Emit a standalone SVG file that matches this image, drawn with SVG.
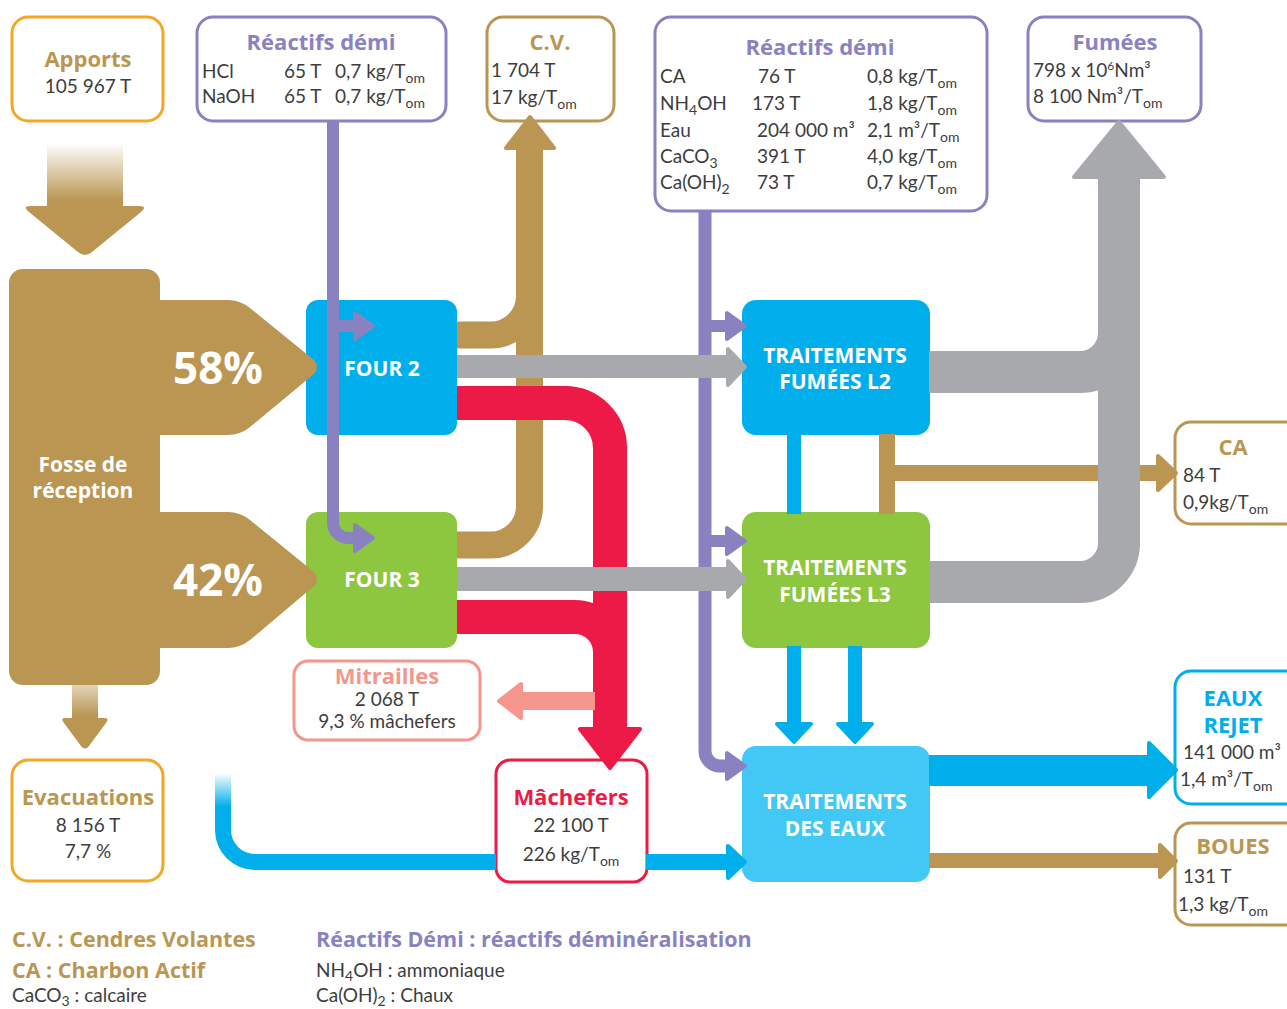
<svg xmlns="http://www.w3.org/2000/svg" width="1287" height="1009" viewBox="0 0 1287 1009">
  <defs>
    <style>
      text{font-family:Lato,'Open Sans','Liberation Sans',sans-serif}
      .ttl{font-family:'Open Sans',Lato,sans-serif;font-weight:700;font-size:22px;text-anchor:middle}
      .lg{font-family:'Open Sans',Lato,sans-serif;font-weight:700;font-size:21.5px}
      .bd{font-size:19px;fill:#3d3d3d}
      .mid{text-anchor:middle}
      .wt{font-family:'Open Sans',Lato,sans-serif;fill:#fff;font-weight:700;font-size:21px;text-anchor:middle}
      .pct{font-family:'Open Sans',Lato,sans-serif;fill:#fff;font-weight:700;font-size:44px;text-anchor:middle}
      .box{fill:#fff;stroke-width:3}
      .hd{stroke-linejoin:round;stroke-width:4}
      .gold{fill:#BA9652}.goldS{stroke:#BA9652}.goldT{fill:#BA9652}
      .blue{fill:#00AEEC}.blueS{stroke:#00AEEC}
      .green{fill:#8DC63F}
      .red{fill:#ED1A47}.redS{stroke:#ED1A47}
      .gray{fill:#A8A9AD}.grayS{stroke:#A8A9AD}
      .purple{fill:#8A82C0}.purpleS{stroke:#8A82C0}
      .salmon{fill:#F4968C}.salmonS{stroke:#F4968C}
      .orangeS{stroke:#F5A623}
      .aqua{fill:#42C8F4}
    </style>
    <linearGradient id="fadeGold" x1="0" y1="0" x2="0" y2="1">
      <stop offset="0" stop-color="#BA9652" stop-opacity="0"/>
      <stop offset="0.9" stop-color="#BA9652" stop-opacity="1"/>
    </linearGradient>
    <linearGradient id="fadeGoldShort" x1="0" y1="0" x2="0" y2="1">
      <stop offset="0" stop-color="#BA9652" stop-opacity="0.4"/>
      <stop offset="0.9" stop-color="#BA9652" stop-opacity="1"/>
    </linearGradient>
    <linearGradient id="fadeBlue" x1="0" y1="0" x2="0" y2="1">
      <stop offset="0" stop-color="#00AEEC" stop-opacity="0"/>
      <stop offset="0.75" stop-color="#00AEEC" stop-opacity="1"/>
    </linearGradient>
  </defs>

  <!-- process nodes -->
  <g id="fosse">
    <rect x="9" y="269" width="151" height="416" rx="14" class="gold"/>
    <text class="wt" x="83" y="472" font-size="22">Fosse de</text>
    <text class="wt" x="83" y="498" font-size="22">réception</text>
  </g>
  <g id="four2">
    <rect x="306" y="300" width="151" height="135" rx="12" class="blue"/>
    <text class="wt" x="382" y="376">FOUR 2</text>
  </g>
  <g id="four3">
    <rect x="306" y="512" width="151" height="136" rx="12" class="green"/>
    <text class="wt" x="382" y="587">FOUR 3</text>
  </g>
  <g id="traitement-l2">
    <rect x="742" y="300" width="188" height="135" rx="14" class="blue"/>
    <text class="wt" x="835" y="363">TRAITEMENTS</text>
    <text class="wt" x="835" y="389">FUMÉES L2</text>
  </g>
  <g id="traitement-l3">
    <rect x="742" y="512" width="188" height="136" rx="14" class="green"/>
    <text class="wt" x="835" y="575">TRAITEMENTS</text>
    <text class="wt" x="835" y="602">FUMÉES L3</text>
  </g>
  <g id="traitement-eaux">
    <rect x="742" y="746" width="188" height="136" rx="14" class="aqua"/>
    <text class="wt" x="835" y="809">TRAITEMENTS</text>
    <text class="wt" x="835" y="836">DES EAUX</text>
  </g>

  <!-- input / output nodes -->
  <g id="apports">
    <rect x="12" y="17" width="151" height="104" rx="16" class="box orangeS"/>
    <text class="ttl goldT" x="88" y="67">Apports</text>
    <text class="bd mid" x="88" y="93">105 967 T</text>
  </g>
  <g id="reactifs-fours">
    <rect x="197" y="17" width="249" height="104" rx="16" class="box purpleS"/>
    <text class="ttl purple" x="321" y="50">Réactifs démi</text>
    <text class="bd" x="202" y="78">HCl</text>
    <text class="bd" x="284" y="78">65 T</text>
    <text class="bd" x="335" y="78">0,7 kg/T<tspan font-size="14" dy="5">om</tspan></text>
    <text class="bd" x="202" y="103">NaOH</text>
    <text class="bd" x="284" y="103">65 T</text>
    <text class="bd" x="335" y="103">0,7 kg/T<tspan font-size="14" dy="5">om</tspan></text>
  </g>
  <g id="cendres-volantes">
    <rect x="487" y="17" width="127" height="104" rx="16" class="box goldS"/>
    <text class="ttl goldT" x="550" y="50">C.V.</text>
    <text class="bd" x="491" y="77">1 704 T</text>
    <text class="bd" x="491" y="104">17 kg/T<tspan font-size="14" dy="5">om</tspan></text>
  </g>
  <g id="reactifs-fumees">
    <rect x="655" y="17" width="332" height="194" rx="16" class="box purpleS"/>
    <text class="ttl purple" x="820" y="55">Réactifs démi</text>
    <text class="bd" x="660" y="83">CA</text>
    <text class="bd" x="758" y="83">76 T</text>
    <text class="bd" x="867" y="83">0,8 kg/T<tspan font-size="14" dy="5">om</tspan></text>
    <text class="bd" x="660" y="110">NH<tspan font-size="14" dy="5">4</tspan><tspan dy="-5">OH</tspan></text>
    <text class="bd" x="752" y="110">173 T</text>
    <text class="bd" x="867" y="110">1,8 kg/T<tspan font-size="14" dy="5">om</tspan></text>
    <text class="bd" x="660" y="137">Eau</text>
    <text class="bd" x="757" y="137">204 000 m³</text>
    <text class="bd" x="867" y="137">2,1 m³/T<tspan font-size="14" dy="5">om</tspan></text>
    <text class="bd" x="660" y="163">CaCO<tspan font-size="14" dy="5">3</tspan></text>
    <text class="bd" x="757" y="163">391 T</text>
    <text class="bd" x="867" y="163">4,0 kg/T<tspan font-size="14" dy="5">om</tspan></text>
    <text class="bd" x="660" y="189">Ca(OH)<tspan font-size="14" dy="5">2</tspan></text>
    <text class="bd" x="757" y="189">73 T</text>
    <text class="bd" x="867" y="189">0,7 kg/T<tspan font-size="14" dy="5">om</tspan></text>
  </g>
  <g id="fumees">
    <rect x="1028" y="17" width="173" height="104" rx="16" class="box purpleS"/>
    <text class="ttl purple" x="1115" y="50">Fumées</text>
    <text class="bd" x="1033" y="77">798 x 10<tspan font-size="12" dy="-7">6</tspan><tspan dy="7">Nm³</tspan></text>
    <text class="bd" x="1033" y="103">8 100 Nm³/T<tspan font-size="14" dy="5">om</tspan></text>
  </g>
  <g id="charbon-actif">
    <rect x="1175" y="422" width="130" height="102" rx="16" class="box goldS"/>
    <text class="ttl goldT" x="1233" y="455">CA</text>
    <text class="bd" x="1183" y="482">84 T</text>
    <text class="bd" x="1183" y="509">0,9kg/T<tspan font-size="14" dy="5">om</tspan></text>
  </g>
  <g id="eaux-rejet">
    <rect x="1175" y="671" width="130" height="133" rx="16" class="box blueS"/>
    <text class="ttl blue" x="1233" y="706">EAUX</text>
    <text class="ttl blue" x="1233" y="733">REJET</text>
    <text class="bd" x="1183" y="759">141 000 m³</text>
    <text class="bd" x="1180" y="786">1,4 m³/T<tspan font-size="14" dy="5">om</tspan></text>
  </g>
  <g id="boues">
    <rect x="1175" y="823" width="130" height="102" rx="16" class="box goldS"/>
    <text class="ttl goldT" x="1233" y="854">BOUES</text>
    <text class="bd" x="1183" y="883">131 T</text>
    <text class="bd" x="1178" y="911">1,3 kg/T<tspan font-size="14" dy="5">om</tspan></text>
  </g>
  <g id="mitrailles">
    <rect x="294" y="661" width="186" height="79" rx="14" class="box salmonS"/>
    <text class="ttl salmon" x="387" y="684" font-size="21">Mitrailles</text>
    <text class="bd mid" x="387" y="706">2 068  T</text>
    <text class="bd mid" x="387" y="728">9,3 % mâchefers</text>
  </g>
  <g id="machefers">
    <rect x="496" y="760" width="151" height="122" rx="14" class="box redS"/>
    <text class="ttl red" x="571" y="805">Mâchefers</text>
    <text class="bd mid" x="571" y="832">22 100 T</text>
    <text class="bd mid" x="571" y="861">226 kg/T<tspan font-size="14" dy="5">om</tspan></text>
  </g>
  <g id="evacuations">
    <rect x="12" y="760" width="151" height="121" rx="16" class="box orangeS"/>
    <text class="ttl goldT" x="88" y="805">Evacuations</text>
    <text class="bd mid" x="88" y="832">8 156 T</text>
    <text class="bd mid" x="88" y="858">7,7 %</text>
  </g>

  <!-- flows -->
  <g id="connectors" fill="none">
    <!-- waste in / out of the pit -->
    <rect x="47" y="143" width="76" height="64" fill="url(#fadeGold)"/>
    <path d="M30,206 H139 Q148,206 141,212 L92,252 Q85,258 78,252 L29,212 Q22,206 30,206 Z" class="gold"/>
    <rect x="72" y="685" width="26" height="34" fill="url(#fadeGoldShort)"/>
    <path d="M65,718 H104 Q110,718 106,723 L89,746 Q85,751 81,746 L64,723 Q60,718 65,718 Z" class="gold"/>

    <!-- pit split to the furnaces -->
    <path d="M150,300 H228 Q240,300 250,308 L314,360 Q320,367 314,374 L250,427 Q240,435 228,435 H150 Z" class="gold"/>
    <path d="M150,512 H228 Q240,512 250,520 L314,572 Q320,579 314,586 L250,640 Q240,648 228,648 H150 Z" class="gold"/>
    <text class="pct" x="218" y="384">58%</text>
    <text class="pct" x="218" y="596">42%</text>

    <!-- fly ash -->
    <path d="M457,335 H490 A39 39 0 0 0 529.5 296" class="goldS" stroke-width="27"/>
    <path d="M457,545 H490 A39 39 0 0 0 529.5 506 V146" class="goldS" stroke-width="27"/>
    <polygon points="506,148 530,117 554,148" class="gold goldS hd"/>

    <!-- bottom ash -->
    <path d="M457,617 H575 A35 35 0 0 1 610 652 V700" class="redS" stroke-width="34"/>
    <path d="M457,403 H565 A45 45 0 0 1 610 448 V730" class="redS" stroke-width="34"/>
    <polygon points="580,729 640,729 610,768" class="red redS hd"/>
    <rect x="515" y="692" width="80" height="18" class="salmon"/>
    <polygon points="521,684 499,701 521,718" class="salmon salmonS hd"/>

    <!-- reagents to furnaces -->
    <path d="M333,121 V523 A15 15 0 0 0 348 538 H357" class="purpleS" stroke-width="12"/>
    <rect x="333" y="320" width="24" height="12" class="purple"/>
    <polygon points="355,313 373,326 355,339" class="purple purpleS hd"/>
    <polygon points="355,525 373,538 355,551" class="purple purpleS hd"/>

    <!-- reagents to flue gas and water treatment -->
    <path d="M705,211 V751 A15 15 0 0 0 720 766 H729" class="purpleS" stroke-width="13"/>
    <rect x="705" y="320" width="24" height="12" class="purple"/>
    <polygon points="727,313 745,326 727,339" class="purple purpleS hd"/>
    <rect x="705" y="535" width="24" height="12" class="purple"/>
    <polygon points="727,528 745,541 727,554" class="purple purpleS hd"/>
    <polygon points="727,753 745,766 727,779" class="purple purpleS hd"/>

    <!-- flue gas to treatment -->
    <rect x="457" y="355" width="272" height="23" class="gray"/>
    <polygon points="728,349 745,367 728,385" class="gray grayS hd"/>
    <rect x="457" y="567" width="272" height="24" class="gray"/>
    <polygon points="728,561 745,579 728,597" class="gray grayS hd"/>

    <!-- activated carbon out -->
    <rect x="879" y="434" width="16" height="80" class="gold"/>
    <rect x="879" y="465" width="281" height="16" class="gold"/>
    <polygon points="1158,456 1176,473 1158,490" class="gold goldS hd"/>

    <!-- cleaned flue gas to stack -->
    <path d="M929,372 H1080 A39 39 0 0 0 1119 333" class="grayS" stroke-width="42"/>
    <path d="M929,582 H1080 A39 39 0 0 0 1119 543 V176" class="grayS" stroke-width="42"/>
    <polygon points="1074,177 1119,122 1164,177" class="gray grayS hd"/>

    <!-- water circuits -->
    <rect x="787" y="434" width="14" height="80" class="blue"/>
    <rect x="787" y="646" width="14" height="80" class="blue"/>
    <polygon points="777,724 794,742 811,724" class="blue blueS hd"/>
    <rect x="848" y="646" width="14" height="80" class="blue"/>
    <polygon points="838,724 855,742 872,724" class="blue blueS hd"/>
    <rect x="215" y="773" width="16" height="45" fill="url(#fadeBlue)"/>
    <path d="M223,816 V830 A32 32 0 0 0 255 862 H496" class="blueS" stroke-width="16"/>
    <rect x="646" y="854" width="83" height="16" class="blue"/>
    <polygon points="728,846 745,862 728,878" class="blue blueS hd"/>

    <!-- treated water and sludge out -->
    <rect x="929" y="755" width="222" height="31" class="blue"/>
    <polygon points="1149,743 1176,770 1149,797" class="blue blueS hd"/>
    <rect x="929" y="853" width="232" height="15" class="gold"/>
    <polygon points="1160,845 1176,861 1160,877" class="gold goldS hd"/>
  </g>

  <!-- legend -->
  <g id="legend">
    <text class="lg goldT" x="12" y="947">C.V. : Cendres Volantes</text>
    <text class="lg goldT" x="12" y="978">CA : Charbon Actif</text>
    <text class="bd" x="12" y="1002">CaCO<tspan font-size="14" dy="4">3</tspan><tspan dy="-4"> : calcaire</tspan></text>
    <text class="lg purple" x="316" y="947">Réactifs Démi : réactifs déminéralisation</text>
    <text class="bd" x="316" y="977">NH<tspan font-size="14" dy="4">4</tspan><tspan dy="-4">OH : ammoniaque</tspan></text>
    <text class="bd" x="316" y="1002">Ca(OH)<tspan font-size="14" dy="4">2</tspan><tspan dy="-4"> : Chaux</tspan></text>
  </g>
</svg>
